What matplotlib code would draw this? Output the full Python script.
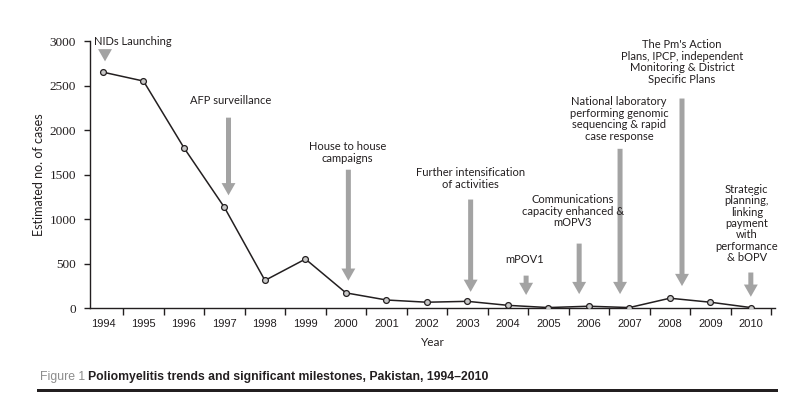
import matplotlib
matplotlib.use("Agg")
import matplotlib.pyplot as plt
from matplotlib.patches import FancyArrowPatch, Rectangle
import numpy as np

# data
years = ["1994", "1995", "1996", "1997", "1998", "1999", "2000", "2001", "2002",
         "2003", "2004", "2005", "2006", "2007", "2008", "2009", "2010"]
cases = [2650, 2550, 1800, 1130, 310, 550, 170, 90, 65, 75, 30, 5, 20, 5, 110, 65, 5]

# milestones: label, arrow x (category index), arrow tail, arrow tip, text x, text y
labels = [
    "House to house\ncampaigns",
    "Further intensification\nof activities",
    "mPOV1",
    "Communications\ncapacity enhanced &\nmOPV3",
    "National laboratory\nperforming genomic\nsequencing & rapid\ncase response",
    "The Pm's Action\nPlans, IPCP, independent\nMonitoring & District\nSpecific Plans",
    "Strategic\nplanning,\nlinking\npayment\nwith\nperformance\n& bOPV",
]
arrow_x = [6.06, 9.08, 10.45, 11.76, 12.77, 14.3, 16.0]
arrow_tail = [1585, 1250, 395, 755, 1820, 2385, 430]
arrow_tip = [275, 150, 115, 125, 125, 215, 95]
text_x = [6.04, 9.08, 10.42, 11.6, 12.75, 14.3, 15.9]
text_y = [1745, 1455, 540, 1090, 2125, 2765, 950]

sans = ["Lato", "DejaVu Sans"]
narrow = ["Liberation Sans Narrow", "Liberation Sans"]
serif = ["Liberation Serif"]
grey = "#a3a3a3"
ink = "#231f20"

fig = plt.figure(figsize=(8.06, 4.16), dpi=100, facecolor="white")
ax = fig.add_axes([0.1117, 0.2596, 0.85, 0.6418])

x = np.arange(len(years))
ax.plot(x, cases, color=ink, lw=1.1, marker="o", ms=4.2,
        mfc="#c8c8c8", mec=ink, mew=0.9, zorder=3)

ax.set_xlim(-0.32, 16.6)
ax.set_ylim(0, 3000)
ax.spines["top"].set_visible(False)
ax.spines["right"].set_visible(False)
for s in ("left", "bottom"):
    ax.spines[s].set_color(ink)
    ax.spines[s].set_linewidth(1.0)

ax.set_yticks(range(0, 3001, 500))
ax.set_yticklabels([str(v) for v in range(0, 3001, 500)], family=serif, fontsize=9.5, color=ink)
ax.tick_params(axis="y", direction="out", length=4, width=1, color=ink, pad=6)

ax.set_xticks(x)
ax.set_xticklabels(years, family=narrow, fontsize=8, color=ink)
ax.set_xticks(x + 0.5, minor=True)
ax.tick_params(axis="x", which="major", length=0, pad=8)
ax.tick_params(axis="x", which="minor", direction="out", length=5, width=1, color=ink)

ax.set_xlabel("Year", family=sans, fontsize=8.5, color=ink, labelpad=6)
ax.set_ylabel("Estimated no. of cases", family=sans, fontsize=9, color=ink, labelpad=3)


def arrow(xx, y0, y1):
    a = FancyArrowPatch((xx, y0), (xx, y1),
                        arrowstyle="simple,head_length=1.1,head_width=1.25,tail_width=0.45",
                        mutation_scale=8, color=grey, lw=0, zorder=2)
    ax.add_patch(a)


# NIDs Launching sits left-aligned at the top
ax.text(-0.22, 2990, "NIDs Launching", family=sans, fontsize=8, color=ink,
        ha="left", va="center", clip_on=False)
arrow(0.05, 2930, 2740)

ax.text(3.14, 2330, "AFP surveillance", family=sans, fontsize=8, color=ink,
        ha="center", va="center")
arrow(3.1, 2170, 1235)

for lab, ax_, t0, t1, tx, ty in zip(labels, arrow_x, arrow_tail, arrow_tip, text_x, text_y):
    ax.text(tx, ty, lab, family=sans, fontsize=8, color=ink, ha="center", va="center",
            linespacing=1.05, clip_on=False)
    arrow(ax_, t0, t1)

# caption
t1 = fig.text(40 / 806, 1 - 380 / 416, "Figure 1 ", family=narrow, fontsize=8.8,
              color="#8c8c8c", ha="left", va="baseline")
fig.canvas.draw()
bb = t1.get_window_extent()
fig.text(bb.x1 / fig.bbox.width, 1 - 380 / 416,
         "Poliomyelitis trends and significant milestones, Pakistan, 1994\u20132010",
         family=narrow, fontsize=8.8, fontweight="bold", color=ink, ha="left", va="baseline")
fig.add_artist(Rectangle((37 / 806, 1 - 392 / 416), (778 - 37) / 806, 3.5 / 416,
                         transform=fig.transFigure, color=ink, lw=0))

fig.savefig("out.png", dpi=100, facecolor="white")
